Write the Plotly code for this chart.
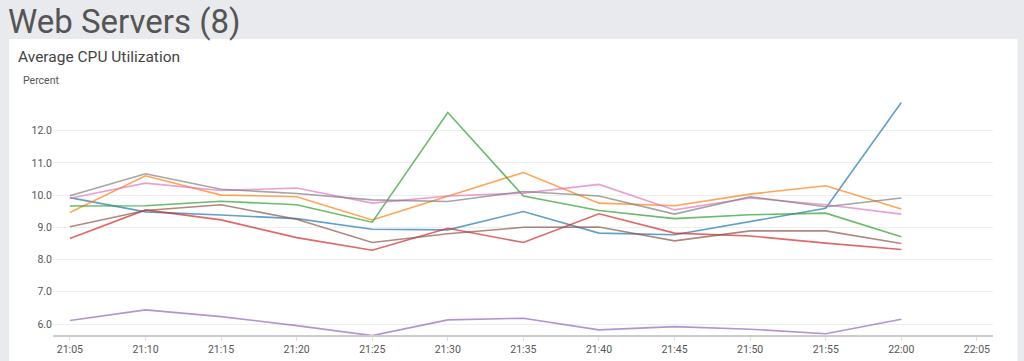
import plotly.graph_objects as go

times = ["21:05", "21:10", "21:15", "21:20", "21:25", "21:30",
         "21:35", "21:40", "21:45", "21:50", "21:55", "22:00"]

blue   = [9.92, 9.48, 9.38, 9.27, 8.94, 8.92, 9.49, 8.82, 8.77, 9.18, 9.59, 12.87]
orange = [9.46, 10.60, 10.00, 9.95, 9.23, 9.97, 10.70, 9.75, 9.67, 10.03, 10.29, 9.57]
green  = [9.66, 9.67, 9.81, 9.70, 9.16, 12.56, 9.97, 9.52, 9.27, 9.39, 9.44, 8.71]
red    = [8.65, 9.54, 9.23, 8.68, 8.29, 8.97, 8.53, 9.42, 8.82, 8.73, 8.51, 8.31]
purple = [6.11, 6.44, 6.23, 5.95, 5.64, 6.13, 6.18, 5.82, 5.92, 5.84, 5.70, 6.15]
brown  = [9.02, 9.52, 9.70, 9.25, 8.53, 8.80, 9.00, 9.01, 8.58, 8.89, 8.89, 8.50]
pink   = [9.90, 10.37, 10.14, 10.22, 9.75, 9.97, 10.06, 10.33, 9.54, 9.91, 9.70, 9.41]
gray   = [9.98, 10.66, 10.18, 10.05, 9.85, 9.80, 10.11, 9.97, 9.41, 9.95, 9.64, 9.91]

series = [
    ("web-1", blue, "#1f77b4"),
    ("web-2", orange, "#ff7f0e"),
    ("web-3", green, "#2ca02c"),
    ("web-4", red, "#d62728"),
    ("web-5", purple, "#9467bd"),
    ("web-6", brown, "#8c564b"),
    ("web-7", pink, "#e377c2"),
    ("web-8", gray, "#7f7f7f"),
]

day = "2024-01-01 "
xs = [day + t for t in times]

fig = go.Figure()
for name, vals, col in series:
    fig.add_trace(go.Scatter(x=xs, y=vals, mode="lines", name=name,
                             line=dict(color=col, width=1.6), opacity=0.7,
                             showlegend=False))

# plot area pixels: x 53..993, y 99..335
L, R, T, B = 53, 993, 99, 335
W, H = R - L, B - T
def px(x):
    return (x - L) / W
def py(y):
    return (B - y) / H

fig.add_shape(type="rect", xref="paper", yref="paper",
              x0=px(9), x1=px(1017.5), y0=py(380), y1=py(39),
              fillcolor="white", line=dict(width=0), layer="below")

fig.add_annotation(text="Web Servers (8)", xref="paper", yref="paper",
                   x=px(6), y=py(21), xanchor="left", yanchor="middle",
                   showarrow=False, font=dict(family="Roboto", size=33, color="#555555"))
fig.add_annotation(text="Average CPU Utilization", xref="paper", yref="paper",
                   x=px(16), y=py(57), xanchor="left", yanchor="middle",
                   showarrow=False, font=dict(family="Roboto", size=15.5, color="#444444"))
fig.add_annotation(text="Percent", xref="paper", yref="paper",
                   x=px(21), y=py(80), xanchor="left", yanchor="middle",
                   showarrow=False, font=dict(family="Roboto", size=10.5, color="#555555"))

fig.update_layout(
    width=1024, height=361,
    margin=dict(l=L, r=1024 - R, t=T, b=361 - B, pad=0, autoexpand=False),
    paper_bgcolor="#e8eaed",
    plot_bgcolor="white",
    font=dict(family="Roboto", color="#555555", size=11),
)
fig.update_xaxes(
    type="date", automargin=False,
    range=[day + "21:03:53", day + "22:06:04"],
    tick0=day + "21:05", dtick=300000, tickformat="%H:%M",
    showgrid=False, showline=True, linecolor="#cccccc", linewidth=1.5,
    ticks="outside", ticklen=4, tickcolor="#dddddd",
    tickfont=dict(size=10.5, color="#555555"), zeroline=False,
)
fig.update_yaxes(
    automargin=False,
    range=[5.66, 12.98], tick0=6, dtick=1, tickformat=".1f",
    showgrid=True, gridcolor="#eeeeee", gridwidth=1,
    showline=False, zeroline=False, ticks="",
    tickfont=dict(size=10.5, color="#555555"),
)

fig.write_html("out.html", config={"displayModeBar": False},
               post_script="document.body.style.margin='0';document.body.style.background='#e8eaed';")
